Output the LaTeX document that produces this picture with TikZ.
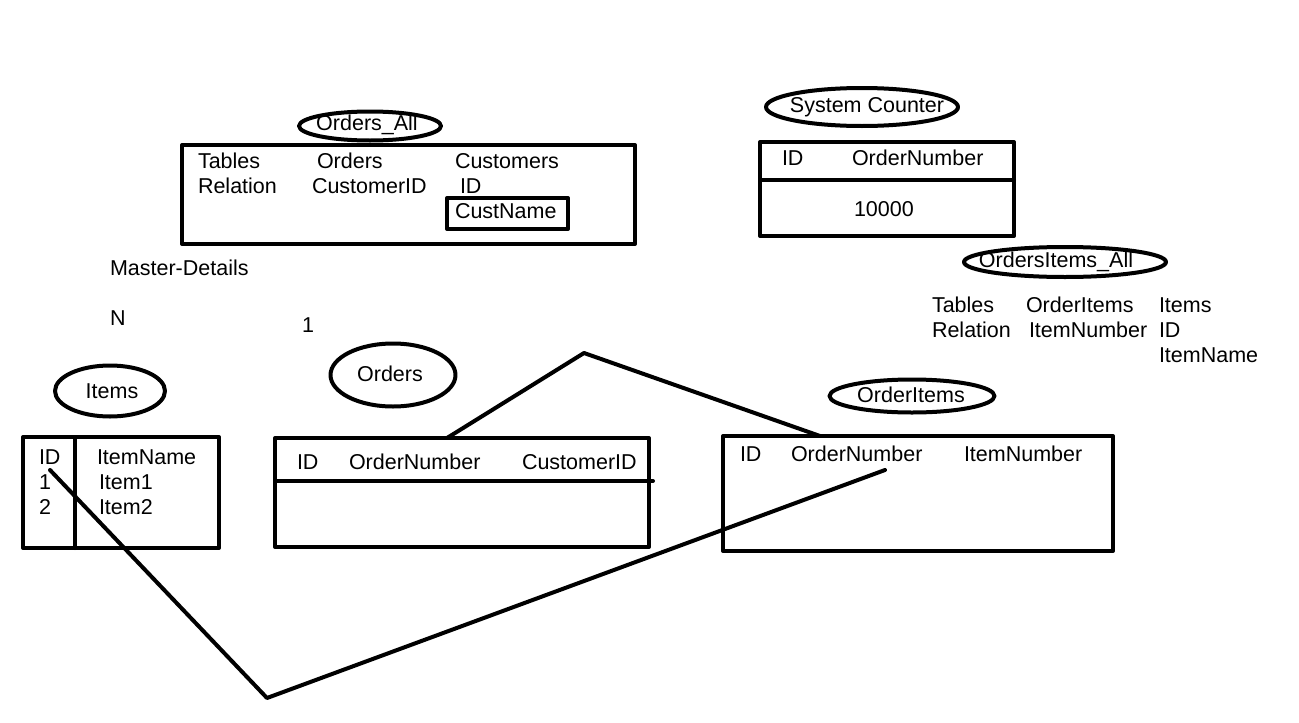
\documentclass[tikz,border=0pt]{standalone}
\usepackage{fontspec}
\setmainfont{Liberation Sans}
\usetikzlibrary{shapes.geometric}
\begin{document}
\begin{tikzpicture}[x=1pt,y=-1pt,line width=4pt,line cap=round,line join=round,
  lbl/.style={anchor=base west,inner sep=0pt,font=\fontsize{21.5}{25}\selectfont},
  otext/.style={inner sep=0pt,font=\fontsize{21.5}{25}\selectfont},
  oval/.style={draw,ellipse,inner sep=0pt},
  tbox/.style={draw,rectangle,inner sep=0pt},
  link/.style={draw,line width=4pt}]
\fill[white] (0,0) rectangle (1299,723);
\useasboundingbox (0,0) rectangle (1299,723);

% Orders_All
\node[oval,minimum width=142pt,minimum height=29pt] (oall) at (370,126) {};
\node[otext] (oallt) at (367,125) {Orders\_All};
\node[tbox,minimum width=453pt,minimum height=99pt] (oallbox) at (408.5,194.5) {};
\node[lbl] (t1) at (196,168) {Tables};
\node[lbl] (t2) at (315,168) {Orders};
\node[lbl] (t3) at (453,168) {Customers};
\node[lbl] (t4) at (196,193) {Relation};
\node[lbl] (t5) at (310,193) {CustomerID};
\node[lbl] (t6) at (458,193) {ID};
\node[tbox,minimum width=121pt,minimum height=31pt] (cnbox) at (507.5,213.5) {};
\node[lbl] (t7) at (453,218) {CustName};

\node[lbl] (md) at (108,275.5) {Master-Details};
\node[lbl] (nn) at (108,325.5) {N};
\node[lbl] (one) at (300,332.5) {1};

% System Counter
\node[oval,minimum width=192pt,minimum height=38pt] (sc) at (862,107) {};
\node[otext] (sct) at (867,107) {System Counter};
\node[tbox,minimum width=254pt,minimum height=94pt] (scbox) at (887,189) {};
\draw (760,180) -- (1014,180);
\node[lbl] (s1) at (780,165.5) {ID};
\node[lbl] (s2) at (850,165.5) {OrderNumber};
\node[lbl] (s3) at (852,216.5) {10000};

% OrdersItems_All
\node[oval,minimum width=202pt,minimum height=30pt] (oiall) at (1065,262) {};
\node[otext] (oiallt) at (1056,262) {OrdersItems\_All};
\node[lbl] (r1) at (930,312.5) {Tables};
\node[lbl] (r2) at (1024,312.5) {OrderItems};
\node[lbl] (r3) at (1157,312.5) {Items};
\node[lbl] (r4) at (930,337.5) {Relation};
\node[lbl] (r5) at (1027,337.5) {ItemNumber};
\node[lbl] (r6) at (1157,337.5) {ID};
\node[lbl] (r7) at (1157,362.5) {ItemName};

% Items
\node[oval,minimum width=110pt,minimum height=51pt] (items) at (110,391) {};
\node[otext] (itemst) at (112,391) {Items};
\node[tbox,minimum width=196pt,minimum height=111pt] (itbox) at (121,492.5) {};
\draw (75,437) -- (75,548);
\node[lbl] (i1) at (37,464) {ID};
\node[lbl] (i2) at (37,489) {1};
\node[lbl] (i3) at (37,514) {2};
\node[lbl] (i4) at (95,464) {ItemName};
\node[lbl] (i5) at (97,489) {Item1};
\node[lbl] (i6) at (97,514) {Item2};

% Orders
\node[oval,minimum width=125pt,minimum height=63pt] (orders) at (393,375) {};
\node[otext] (orderst) at (390,374) {Orders};
\node[tbox,minimum width=374pt,minimum height=109pt] (ordbox) at (462,492.5) {};
\draw (275,481) -- (653,481);
\node[lbl] (o1) at (295,469) {ID};
\node[lbl] (o2) at (347,469) {OrderNumber};
\node[lbl] (o3) at (520,469) {CustomerID};

% OrderItems
\node[oval,minimum width=165pt,minimum height=33pt] (oitems) at (912,396) {};
\node[otext] (oitemst) at (911,395) {OrderItems};
\node[tbox,minimum width=390pt,minimum height=115pt] (oibox) at (918,493.5) {};
\node[lbl] (p1) at (738,461) {ID};
\node[lbl] (p2) at (789,461) {OrderNumber};
\node[lbl] (p3) at (962,461) {ItemNumber};

% connectors
\coordinate (ordtop) at (447,438);
\coordinate (apex) at (584,353);
\coordinate (oitop) at (820,436);
\draw[link] (ordtop) -- (apex) -- (oitop);
\coordinate (idfoot) at (50,470);
\coordinate (low) at (267,698);
\coordinate (onfoot) at (885,470);
\draw[link] (idfoot) -- (low) -- (onfoot);
\end{tikzpicture}
\end{document}
